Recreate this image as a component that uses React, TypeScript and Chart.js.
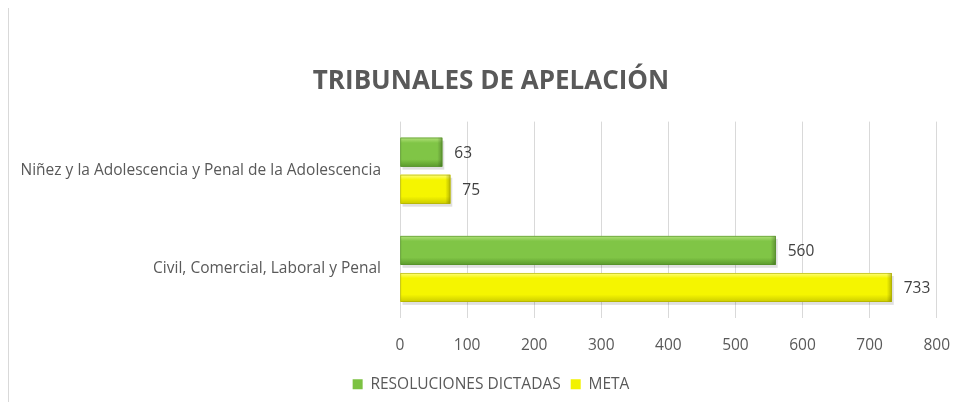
import React, { useEffect, useRef } from "react";
import { Chart, registerables } from "chart.js";

Chart.register(...registerables);

const categories = [
  "Niñez y la Adolescencia y Penal de la Adolescencia",
  "Civil, Comercial, Laboral y Penal",
];
const resoluciones = [63, 560];
const meta = [75, 733];
const seriesNames = ["RESOLUCIONES DICTADAS", "META"];
const titleText = "TRIBUNALES DE APELACIÓN";

const FONT = "'Open Sans', 'DejaVu Sans', sans-serif";
const GRAY = "#595959";
const FS = 15.5;

const barShade = [
  { base: "#7cc242", top: "#b2e27a", mid: "#80c546", bottom: "#5a9a2c", edge: "#4e8a24" },
  { base: "#f2f200", top: "#ffff80", mid: "#f5f500", bottom: "#cccc00", edge: "#a8a800" },
];

const bevelPlugin = {
  id: "bevel",
  afterLayout(chart: any) {
    // let the long category label extend into the left padding
    if (chart.scales.y) chart.scales.y.left = 0;
  },
  afterDatasetsDraw(chart: any) {
    const ctx = chart.ctx;
    chart.data.datasets.forEach((_: any, di: number) => {
      const metaD = chart.getDatasetMeta(di);
      const s = barShade[di];
      metaD.data.forEach((el: any) => {
        const { x, y, base, height } = el.getProps(["x", "y", "base", "height"], true);
        const l = Math.min(x, base);
        const r = Math.max(x, base);
        const t = y - height / 2;
        const b = y + height / 2;
        ctx.save();
        ctx.fillStyle = "rgba(0,0,0,0.12)";
        ctx.fillRect(l + 2, t + 3, r - l, b - t);
        const g = ctx.createLinearGradient(0, t, 0, b);
        g.addColorStop(0, s.top);
        g.addColorStop(0.18, s.mid);
        g.addColorStop(0.75, s.mid);
        g.addColorStop(1, s.bottom);
        ctx.fillStyle = g;
        ctx.fillRect(l, t, r - l, b - t);
        const gr = ctx.createLinearGradient(r - 5, 0, r, 0);
        gr.addColorStop(0, "rgba(0,0,0,0)");
        gr.addColorStop(1, "rgba(0,0,0,0.25)");
        ctx.fillStyle = gr;
        ctx.fillRect(r - 5, t, 5, b - t);
        ctx.strokeStyle = s.edge;
        ctx.lineWidth = 0.6;
        ctx.strokeRect(l + 0.3, t + 0.3, r - l - 0.6, b - t - 0.6);
        ctx.restore();
      });
    });
  },
};

const valueLabelPlugin = {
  id: "valueLabels",
  afterDraw(chart: any) {
    const ctx = chart.ctx;
    ctx.save();
    ctx.font = `${FS}px ${FONT}`;
    ctx.fillStyle = "#404040";
    ctx.textAlign = "left";
    ctx.textBaseline = "middle";
    chart.data.datasets.forEach((ds: any, di: number) => {
      const metaD = chart.getDatasetMeta(di);
      metaD.data.forEach((el: any, i: number) => {
        const { x, y } = el.getProps(["x", "y"], true);
        ctx.fillText(String(ds.data[i]), x + 12, y + 1);
      });
    });
    ctx.restore();
  },
};

export default function App() {
  const ref = useRef<HTMLCanvasElement>(null);
  useEffect(() => {
    if (!ref.current) return;
    const chart = new Chart(ref.current, {
      type: "bar",
      data: {
        labels: categories,
        datasets: [
          {
            label: seriesNames[0],
            data: resoluciones,
            backgroundColor: barShade[0].base,
            categoryPercentage: 0.755,
            barPercentage: 0.78,
          },
          {
            label: seriesNames[1],
            data: meta,
            backgroundColor: barShade[1].base,
            categoryPercentage: 0.755,
            barPercentage: 0.78,
          },
        ],
      },
      options: {
        indexAxis: "y",
        animation: false,
        responsive: true,
        maintainAspectRatio: false,
        layout: { padding: { left: 44, right: 30, top: 0, bottom: 8 } },
        scales: {
          x: {
            min: 0,
            max: 800,
            ticks: {
              stepSize: 100,
              padding: 18,
              color: GRAY,
              font: { family: FONT, size: FS },
            },
            grid: { color: "#d9d9d9", drawTicks: false },
            border: { display: false },
            afterFit: (s: any) => {
              s.height = 48.5;
            },
          },
          y: {
            ticks: {
              padding: 19,
              color: GRAY,
              font: { family: FONT, size: FS },
            },
            grid: { display: false, drawTicks: false },
            border: { display: false },
            afterFit: (s: any) => {
              s.width = 356;
            },
          },
        },
        plugins: {
          title: {
            display: true,
            text: titleText,
            color: GRAY,
            font: { family: FONT, size: 26, weight: "bold" },
            padding: { top: 66, bottom: 24.4 },
          },
          legend: {
            position: "bottom",
            labels: {
              boxWidth: 10,
              boxHeight: 10,
              color: GRAY,
              padding: 10,
              font: { family: FONT, size: FS },
            },
          },
          tooltip: { enabled: false },
        },
      },
      plugins: [bevelPlugin, valueLabelPlugin],
    });
    return () => chart.destroy();
  }, []);

  return (
    <div style={{ position: "relative", width: 968, height: 410, margin: -8, overflow: "hidden" }}>
      <div
        style={{
          position: "absolute",
          left: 8,
          top: 5,
          width: 980,
          height: 420,
          border: "1px solid #d9d9d9",
          boxSizing: "border-box",
        }}
      />
      <div style={{ position: "absolute", left: 0, top: 0, width: 968, height: 410 }}>
        <canvas ref={ref} />
      </div>
    </div>
  );
}
